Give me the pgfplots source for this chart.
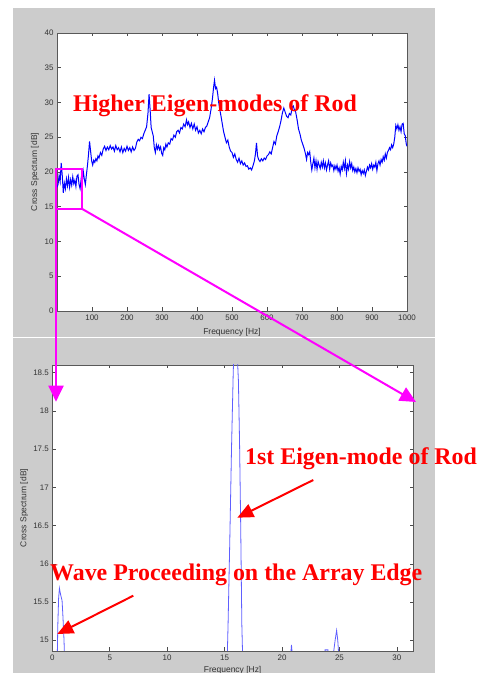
\documentclass[border=0pt]{standalone}
\usepackage{fontspec}
\setmainfont{Liberation Sans}
\newfontfamily\tnr{Liberation Serif}
\usepackage{pgfplots}
\pgfplotsset{compat=1.18}
\usetikzlibrary{arrows.meta}
\definecolor{panelgray}{RGB}{204,204,204}
\definecolor{annred}{RGB}{255,0,0}
\definecolor{magline}{RGB}{255,0,255}
\definecolor{lightblue}{RGB}{95,95,255}

\pgfplotstableread{
f db
0 17.8
3 18.2
6 19.5
9 18.6
12 21.3
15 19.5
18 17.0
21 18.4
24 17.6
27 19.0
30 18.0
33 19.2
36 17.8
39 18.9
42 18.1
45 19.3
48 18.3
51 18.8
54 17.9
57 19.4
60 19.6
63 18.2
66 17.6
69 19.0
72 18.5
75 20.1
78 19.0
81 18.2
84 19.6
87 20.9
90 22.5
93 24.4
96 23.0
99 21.6
102 21.0
105 21.7
108 21.4
111 21.9
114 21.6
117 22.3
120 22.0
124 22.8
128 22.4
132 23.3
136 23.7
140 23.1
144 23.6
148 23.2
152 23.8
156 23.3
160 23.6
164 23.0
168 23.8
172 23.2
176 23.5
180 22.9
184 23.6
188 22.8
192 23.4
196 23.0
200 23.7
204 23.1
208 23.5
212 22.9
216 23.6
220 23.1
224 23.4
228 24.3
232 24.7
236 24.5
240 25.0
244 24.8
248 25.5
252 26.0
256 26.5
260 28.5
263 31.2
266 29.0
269 26.4
272 25.8
275 25.2
278 23.5
281 22.8
284 23.9
287 23.3
290 23.8
293 23.2
296 23.6
299 22.7
302 22.4
305 23.5
308 23.2
311 24.0
314 23.6
318 24.2
322 24.0
326 24.8
330 24.6
334 25.3
338 25.0
342 25.8
346 26.0
350 25.6
354 26.4
358 26.2
362 26.9
366 26.5
370 27.5
373 26.8
376 27.2
380 26.4
384 27.0
388 26.2
392 26.9
396 26.0
400 26.5
404 25.6
408 26.0
412 25.5
416 26.2
420 25.8
424 26.4
428 26.6
432 27.2
436 27.8
440 29.0
444 30.5
447 32.0
450 33.2
453 32.0
456 32.2
459 31.3
462 30.0
465 29.0
468 28.2
472 27.0
476 25.8
480 25.0
484 24.2
488 24.6
492 23.6
496 23.0
500 22.8
504 22.1
508 22.6
512 21.8
516 21.4
520 22.0
524 21.2
528 21.6
532 21.0
536 21.3
540 20.8
544 20.9
548 20.4
552 20.6
556 20.3
560 20.9
564 21.6
567 22.6
570 24.2
573 22.3
576 21.8
580 21.5
584 21.9
588 21.6
592 22.0
596 21.8
600 22.3
604 22.5
608 22.9
612 22.6
616 23.5
620 24.4
624 24.0
628 25.2
632 25.8
636 26.5
640 27.4
644 28.5
648 29.2
652 28.6
656 28.0
660 27.8
664 28.4
668 28.2
672 29.3
675 29.5
678 29.0
682 28.6
686 27.5
690 26.2
694 25.5
698 24.6
702 24.0
706 23.4
710 22.6
713 21.8
716 22.8
719 22.5
722 22.9
725 21.4
728 20.3
731 21.2
734 22.0
737 20.6
740 21.6
743 20.4
746 21.5
749 21.0
752 20.5
755 21.4
758 20.7
761 21.6
764 20.6
767 21.3
770 20.3
773 21.0
776 21.6
779 20.4
782 21.3
785 20.8
788 21.0
791 20.2
794 20.9
797 20.4
800 21.0
803 20.1
806 20.6
809 19.7
812 20.8
815 20.3
818 21.4
821 20.5
824 21.6
827 19.8
830 21.0
833 20.4
836 21.5
839 20.6
842 21.2
845 20.2
848 20.7
851 20.0
854 20.5
857 19.9
860 20.6
863 20.1
866 20.4
869 19.6
872 20.2
875 19.8
878 20.3
881 19.5
884 20.1
887 20.7
890 20.3
893 21.0
896 20.6
899 21.2
902 20.4
905 21.0
908 20.7
911 21.4
914 20.2
917 21.2
920 21.6
923 21.0
926 21.8
929 21.4
932 22.2
935 21.7
938 22.6
941 22.0
944 22.8
947 23.1
950 23.5
953 23.2
956 23.9
959 23.5
962 24.0
965 25.0
968 26.7
971 26.2
974 26.8
977 26.0
980 26.5
983 25.8
986 26.9
989 27.0
992 25.5
995 25.2
998 24.0
1000 23.7
}\widedata

\pgfplotstableread{
f db
0 14.0
0.40 14.5
0.48 15.2
0.55 15.55
0.62 15.68
0.72 15.6
0.85 15.52
0.93 15.3
1.02 15.0
1.12 14.5
1.30 14.0
15.0 14.0
15.2 14.6
15.3 15.2
15.45 16.3
15.6 17.5
15.75 18.5
15.9 19.2
16.05 18.9
16.2 18.4
16.3 17.6
16.4 16.5
16.5 15.2
16.6 14.6
16.8 14.0
20.6 14.0
20.75 14.8
20.82 14.94
20.9 14.8
21.1 14.0
23.6 14.3
23.75 14.875
24.0 14.875
24.2 14.3
24.45 14.8
24.62 15.0
24.75 15.13
24.85 15.0
24.98 14.7
25.2 14.0
31.4 14.0
}\zoomdata

\pgfplotsset{mstyle/.style={
  scale only axis,
  axis background/.style={fill=white},
  tick align=inside,
  xtick pos=both, ytick pos=both,
  major tick length=3.5bp,
  axis line style={black!65, line width=0.8bp},
  every tick/.style={black!70, line width=0.6bp},
  tick label style={font=\fontsize{8}{9}\selectfont, text=black!80},
  label style={font=\fontsize{8.5}{10}\selectfont, text=black!80},
  /pgf/number format/assume math mode=true,
  /pgf/number format/1000 sep={},
}}

\begin{document}
\begin{tikzpicture}[x=1bp,y=1bp]
\path[use as bounding box, fill=white] (0,0) rectangle (478,673);
\fill[panelgray] (13,335.5) rectangle (435,665);
\fill[panelgray] (13,0) rectangle (435,334.5);

\begin{axis}[mstyle,
  at={(57bp,362bp)}, anchor=south west,
  width=350bp, height=278bp,
  xmin=0, xmax=1000, ymin=0, ymax=40,
  xtick={100,200,...,1000}, ytick={0,5,...,40},
  xlabel={Frequency [Hz]}, ylabel={Cross Spectrum [dB]},
  xlabel style={at={(axis description cs:0.5,-0.0755)}, anchor=center},
  ylabel style={at={(axis description cs:-0.063,0.5)}, anchor=center},
]
\addplot[blue, line width=1bp] table[x=f, y=db] {\widedata};
\end{axis}

\begin{axis}[mstyle,
  at={(52.3bp,22bp)}, anchor=south west,
  width=360.7bp, height=286bp,
  xmin=0, xmax=31.4, ymin=14.86, ymax=18.6,
  xtick={0,5,...,30}, ytick={15,15.5,16,16.5,17,17.5,18,18.5},
  xlabel={Frequency [Hz]}, ylabel={Cross Spectrum [dB]},
  xlabel style={at={(axis description cs:0.5,-0.066)}, anchor=center},
  ylabel style={at={(axis description cs:-0.078,0.5)}, anchor=center},
]
\addplot[lightblue, line width=0.8bp] table[x=f, y=db] {\zoomdata};
\end{axis}

% zoom box and magenta connectors
\draw[magline, line width=2bp] (56,464) rectangle (82.3,503.7);
\draw[magline, line width=2bp, -{Triangle[length=16bp,width=15bp]}] (56,464) -- (56,271.3);
\draw[magline, line width=2bp, -{Triangle[length=16bp,width=15bp]}] (82.3,464) -- (416,271);

% red annotations
\node[anchor=base west, inner sep=0, text=annred, font=\tnr\bfseries\fontsize{24}{28}\selectfont] at (73,561) {Higher Eigen-modes of Rod};
\node[anchor=base west, inner sep=0, text=annred, font=\tnr\bfseries\fontsize{24}{28}\selectfont] at (245,208) {1st Eigen-mode of Rod};
\node[anchor=base west, inner sep=0, text=annred, font=\tnr\bfseries\fontsize{24}{28}\selectfont] at (50,92) {Wave Proceeding on the Array Edge};
\draw[annred, line width=2bp, -{Triangle[length=16bp,width=14bp]}] (313.3,193) -- (237.3,155.3);
\draw[annred, line width=2bp, -{Triangle[length=16bp,width=14bp]}] (133.3,77.3) -- (57.3,39);
\end{tikzpicture}
\end{document}
